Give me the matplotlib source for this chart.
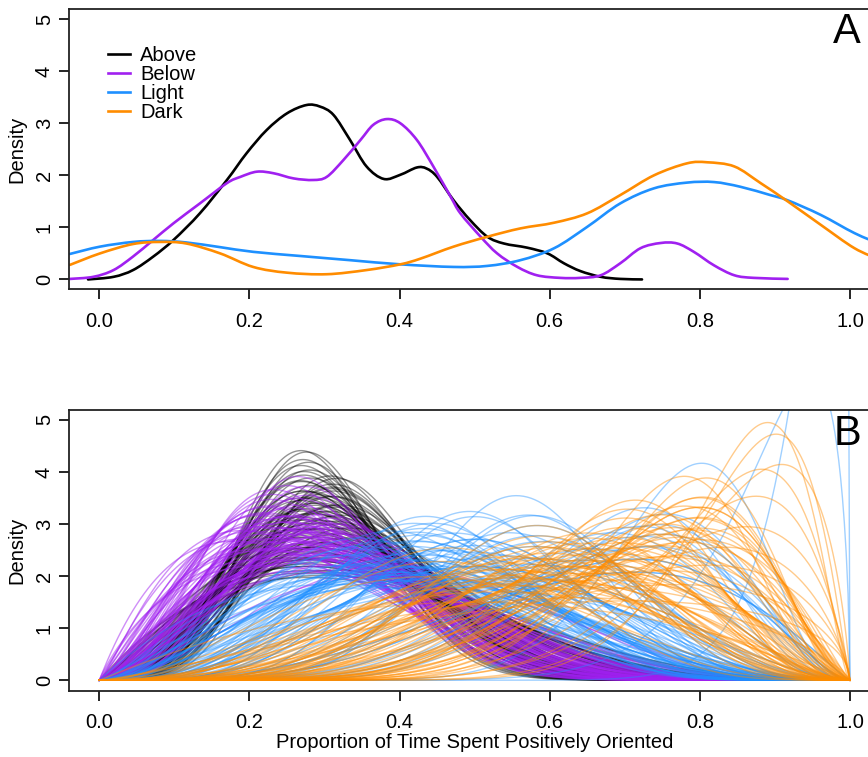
import math

import numpy as np
import matplotlib
matplotlib.use('Agg')
import matplotlib.pyplot as plt
from matplotlib.path import Path
from matplotlib.patches import PathPatch
from matplotlib.lines import Line2D

plt.rcParams['font.family'] = ['Liberation Sans', 'DejaVu Sans']

### Panel A: smoothed densities ###

above_x = [-0.015, 0.019, 0.045, 0.072, 0.099, 0.134, 0.170, 0.196, 0.223, 0.250,
           0.276, 0.294, 0.312, 0.334, 0.356, 0.379, 0.401, 0.423, 0.436, 0.450,
           0.472, 0.494, 0.517, 0.539, 0.570, 0.597, 0.619, 0.641, 0.668, 0.694, 0.723]
above_y = [0.00, 0.05, 0.18, 0.44, 0.76, 1.27, 1.91, 2.42, 2.87, 3.19,
           3.35, 3.32, 3.16, 2.68, 2.17, 1.93, 2.01, 2.15, 2.13, 1.97,
           1.52, 1.14, 0.82, 0.69, 0.61, 0.50, 0.31, 0.16, 0.05, 0.01, 0.00]

below_x = [-0.039, -0.008, 0.019, 0.045, 0.072, 0.099, 0.134, 0.170, 0.188, 0.210,
           0.232, 0.259, 0.285, 0.303, 0.325, 0.348, 0.365, 0.383, 0.401, 0.423,
           0.445, 0.468, 0.481, 0.508, 0.530, 0.557, 0.583, 0.614, 0.641, 0.668,
           0.694, 0.721, 0.748, 0.770, 0.792, 0.819, 0.846, 0.872, 0.917]
below_y = [0.01, 0.05, 0.18, 0.44, 0.76, 1.08, 1.46, 1.85, 1.97, 2.07,
           2.04, 1.94, 1.91, 1.97, 2.29, 2.68, 2.97, 3.08, 3.00, 2.68,
           2.17, 1.59, 1.27, 0.82, 0.50, 0.24, 0.08, 0.03, 0.03, 0.08,
           0.31, 0.60, 0.70, 0.69, 0.53, 0.27, 0.08, 0.03, 0.01]

light_x = [-0.039, 0.001, 0.045, 0.081, 0.116, 0.161, 0.205, 0.268, 0.334, 0.401,
           0.472, 0.517, 0.561, 0.606, 0.650, 0.694, 0.739, 0.783, 0.819, 0.854,
           0.894, 0.917, 0.961, 1.006, 1.040]
light_y = [0.49, 0.63, 0.72, 0.74, 0.71, 0.62, 0.53, 0.45, 0.37, 0.29,
           0.24, 0.26, 0.37, 0.60, 1.01, 1.46, 1.75, 1.86, 1.87, 1.78,
           1.62, 1.52, 1.24, 0.89, 0.68]

dark_x = [-0.039, 0.001, 0.045, 0.081, 0.116, 0.161, 0.205, 0.250, 0.303, 0.356,
          0.401, 0.428, 0.472, 0.517, 0.561, 0.606, 0.650, 0.694, 0.739, 0.783,
          0.810, 0.846, 0.881, 0.917, 0.961, 1.006, 1.040]
dark_y = [0.28, 0.50, 0.68, 0.72, 0.69, 0.50, 0.24, 0.13, 0.10, 0.18,
          0.29, 0.40, 0.63, 0.82, 0.98, 1.09, 1.27, 1.62, 2.00, 2.23,
          2.25, 2.17, 1.85, 1.50, 1.05, 0.60, 0.38]

### Panel B: beta posterior draws (shape parameters a, b per draw) ###

above_a = [2.3, 2.6, 2.8, 3.0, 3.2, 3.4, 3.5, 3.7, 3.9, 4.1, 4.3, 4.5, 4.8, 5.0, 5.3, 5.6, 6.0,
           6.4, 6.8, 7.3, 2.5, 2.9, 3.3, 3.6, 4.0, 4.4, 4.7, 5.2, 5.8, 6.3, 2.4, 2.7, 3.1, 3.4,
           3.8, 4.2, 4.6, 5.1, 5.5, 6.1, 3.0, 3.5, 4.0, 4.5, 5.0, 5.5, 6.2, 7.0, 2.2, 2.6,
           3.6, 3.8, 4.0, 4.2, 4.4, 4.6, 4.8, 5.0, 5.2, 5.4, 3.5, 3.9, 4.3, 4.7, 5.1, 5.5,
           5.9, 6.3, 6.7, 7.1, 3.3, 3.7, 4.1, 4.5, 4.9, 5.3, 5.7, 6.1, 6.5, 6.9,
           2.0, 2.1, 2.2, 2.3, 2.4, 2.5, 2.6, 2.8, 3.0, 3.2]
above_b = [4.4, 5.0, 5.5, 6.0, 6.4, 7.0, 7.2, 7.8, 8.3, 8.8, 9.4, 10.0, 10.6, 11.2, 12.0, 12.8,
           13.8, 14.9, 16.0, 17.5, 4.2, 5.2, 5.9, 6.6, 7.4, 8.4, 9.2, 10.3, 11.6, 12.8, 5.0, 5.8,
           6.8, 7.6, 8.6, 9.6, 10.8, 12.0, 13.2, 14.6, 5.4, 6.4, 7.0, 8.0, 9.4, 10.6, 12.6, 14.0,
           3.8, 4.8, 7.4, 7.8, 8.4, 8.7, 9.4, 9.7, 10.4, 10.7, 11.4, 11.7, 7.7, 8.9, 9.8, 11.1,
           12.0, 13.3, 14.1, 15.4, 16.3, 17.6, 6.2, 6.9, 8.0, 8.7, 9.8, 10.5, 11.6, 12.3, 13.2, 14.3,
           3.6, 3.9, 4.1, 4.4, 4.6, 4.9, 5.1, 5.6, 6.0, 6.5]

below_a = [2.0, 2.2, 2.4, 2.6, 2.8, 3.0, 3.2, 3.4, 3.6, 3.8, 4.0, 4.3, 4.6, 5.0, 5.4, 2.1, 2.3,
           2.5, 2.7, 2.9, 3.1, 3.3, 3.5, 3.8, 4.1, 4.5, 1.9, 2.2, 2.5, 2.8, 3.1, 3.4, 3.8, 4.2,
           2.4, 2.7, 3.0, 3.4, 3.9, 4.4, 2.0, 2.3, 2.6, 3.0, 3.5, 4.0, 4.8, 5.6, 2.7, 3.2,
           2.4, 2.6, 2.8, 3.0, 3.2, 3.4, 3.6, 2.5, 2.7, 2.9, 3.1, 3.3, 3.5, 3.7, 2.2, 2.4,
           2.6, 2.8, 3.0, 3.2, 2.3, 2.5, 2.7, 2.9, 3.1, 3.3, 3.5, 3.9, 4.2, 4.6]
below_b = [4.6, 5.4, 5.6, 6.4, 6.6, 7.5, 7.4, 8.2, 8.8, 9.0, 9.8, 10.2, 11.0, 11.5, 12.6, 4.0,
           4.6, 5.0, 5.3, 5.8, 6.2, 6.6, 7.0, 7.6, 8.2, 9.0, 4.2, 6.0, 6.8, 7.6, 8.6, 9.4, 10.4,
           11.6, 4.2, 4.6, 5.6, 6.2, 7.4, 8.4, 5.6, 6.6, 7.2, 8.4, 9.6, 11.0, 12.4, 13.8, 3.8, 4.4,
           5.2, 5.8, 6.4, 7.0, 7.6, 8.2, 8.8, 4.9, 5.4, 5.9, 6.4, 6.9, 7.4, 7.9, 5.3, 6.0,
           6.7, 7.4, 8.1, 8.8, 4.0, 4.5, 5.0, 5.4, 5.9, 6.4, 6.8, 7.8, 8.5, 9.4]

light_a = [2.0, 2.2, 2.5, 2.8, 3.0, 3.4, 3.8, 4.2, 4.6, 5.0, 5.5, 6.0, 6.6, 7.0, 3.0, 4.0, 6.0,
           8.0, 5.0, 7.0, 9.0, 3.5, 4.0, 5.0, 6.0, 7.0, 8.0, 6.0, 5.0, 7.5, 9.0, 10.0, 12.0, 20.0,
           2.4, 2.8, 3.2, 3.6, 4.4, 5.2, 2.6, 3.0, 3.8, 4.8, 6.2, 8.4, 11.0, 4.5, 6.5, 14.0,
           3.0, 3.4, 3.8, 4.2, 4.6, 5.0, 5.6, 6.2, 3.2, 3.6, 4.0, 4.5, 5.0, 5.5, 6.0, 2.6,
           3.0, 3.4, 3.8, 4.2, 5.0, 6.0, 7.0, 8.0, 9.0, 4.0, 5.0, 6.0, 7.0, 8.0,
           2.4, 2.6, 2.8, 3.0, 3.2, 2.5, 2.7, 2.9, 3.3, 3.6]
light_b = [3.2, 3.0, 3.4, 3.6, 4.0, 4.4, 4.8, 5.2, 5.6, 6.4, 7.0, 7.6, 8.0, 8.8, 3.0, 4.0, 6.0,
           8.0, 4.5, 6.0, 7.0, 3.0, 2.2, 2.6, 2.8, 3.0, 3.4, 3.6, 3.2, 4.0, 3.6, 4.4, 1.6, 1.3,
           4.0, 4.6, 5.4, 6.0, 6.6, 7.6, 2.6, 3.4, 4.2, 5.4, 6.8, 8.6, 9.0, 3.6, 4.8, 4.2,
           3.8, 4.3, 4.9, 5.4, 6.0, 6.5, 7.3, 8.2, 3.2, 3.6, 4.0, 4.5, 5.0, 5.5, 6.0, 4.0,
           4.7, 5.5, 6.2, 7.0, 3.9, 4.6, 5.3, 6.0, 6.8, 2.2, 2.6, 2.9, 3.3, 3.7,
           3.8, 3.6, 4.2, 4.0, 4.6, 3.2, 3.4, 3.8, 4.4, 5.0]

dark_a = [3.0, 3.5, 4.0, 4.5, 5.0, 5.5, 6.0, 6.5, 7.0, 8.0, 9.0, 10.0, 2.6, 3.0, 3.6, 4.0, 5.0,
          6.0, 7.0, 8.0, 4.0, 5.0, 6.0, 7.0, 8.0, 9.0, 10.0, 12.0, 6.0, 8.0, 10.0, 12.0, 9.0, 14.0,
          3.0, 4.0, 5.0, 2.4, 2.0, 4.0, 5.0, 3.0, 11.0, 7.5, 6.5, 9.5, 4.5, 13.0, 2.2, 3.4,
          4.0, 4.5, 5.0, 5.5, 6.0, 6.5, 7.0, 7.5, 3.5, 4.0, 4.5, 5.0, 5.5, 6.0, 6.5, 5.0,
          6.0, 7.0, 8.0, 9.0, 3.0, 3.5, 4.0, 4.5, 5.0, 6.0, 7.0, 8.0, 9.0, 10.0]
dark_b = [2.0, 2.2, 2.4, 2.6, 2.8, 3.0, 3.2, 3.4, 3.6, 4.0, 4.4, 4.8, 2.4, 2.8, 3.2, 3.6, 4.0,
          4.6, 5.2, 6.0, 2.0, 2.2, 2.4, 2.6, 2.8, 3.0, 3.2, 3.6, 1.8, 2.0, 2.2, 2.2, 1.8, 2.6,
          1.6, 1.7, 1.8, 1.8, 2.0, 4.6, 5.6, 3.6, 5.0, 3.0, 2.6, 3.4, 3.0, 4.4, 1.5, 2.6,
          2.6, 2.9, 3.2, 3.4, 3.7, 4.0, 4.2, 4.5, 2.7, 3.0, 3.3, 3.7, 4.0, 4.3, 4.7, 2.3,
          2.7, 3.0, 3.3, 3.7, 2.6, 3.0, 3.5, 3.9, 4.3, 2.25, 2.5, 2.75, 3.0, 3.25]

group_labels = ['Above', 'Below', 'Light', 'Dark']
group_colors = ['black', '#A020F0', '#1E90FF', '#FF8C00']


def beta_pdf(x, a, b):
    log_norm = math.lgamma(a + b) - math.lgamma(a) - math.lgamma(b)
    with np.errstate(divide='ignore'):
        return np.exp(log_norm + (a - 1) * np.log(x) + (b - 1) * np.log(1 - x))


def smooth_path(xs, ys):
    # Catmull-Rom style bezier through the read points (drawing only)
    pts = np.column_stack([xs, ys])
    verts = [pts[0]]
    codes = [Path.MOVETO]
    for i in range(len(pts) - 1):
        p0 = pts[i - 1] if i > 0 else pts[i]
        p1 = pts[i]
        p2 = pts[i + 1]
        p3 = pts[i + 2] if i + 2 < len(pts) else pts[i + 1]
        verts += [p1 + (p2 - p0) / 6, p2 - (p3 - p1) / 6, p2]
        codes += [Path.CURVE4] * 3
    return Path(verts, codes)


def style_axis(ax, ymin):
    ax.set_xlim(-0.04, 1.04)
    ax.set_ylim(ymin, 5.19)
    ax.set_xticks([0.0, 0.2, 0.4, 0.6, 0.8, 1.0])
    ax.set_xticklabels(['0.0', '0.2', '0.4', '0.6', '0.8', '1.0'])
    ax.set_yticks([0, 1, 2, 3, 4, 5])
    ax.tick_params(direction='out', length=7, width=1.2, labelsize=14.5)
    ax.tick_params(axis='x', pad=9)
    ax.tick_params(axis='y', pad=4)
    plt.setp(ax.get_yticklabels(), rotation=90, va='center')
    for spine in ax.spines.values():
        spine.set_linewidth(1.3)
        spine.set_color('#222222')
    ax.set_ylabel('Density', fontsize=14.5, labelpad=6)


def plot_figure():

    fig = plt.figure(figsize=(8.68, 7.57), dpi=100)
    ax1 = fig.add_axes([0.0798, 0.6178, 0.934, 0.370])
    ax2 = fig.add_axes([0.0798, 0.0876, 0.934, 0.3708])

    ### Panel A ###

    series = [(above_x, above_y), (below_x, below_y), (light_x, light_y), (dark_x, dark_y)]
    handles = []
    for (xs, ys), label, color in zip(series, group_labels, group_colors):
        ax1.add_patch(PathPatch(smooth_path(xs, ys), facecolor='none', edgecolor=color,
                                linewidth=1.9, capstyle='round', joinstyle='round'))
        handles.append(Line2D([], [], color=color, linewidth=1.9, label=label))

    style_axis(ax1, -0.19)
    ax1.legend(handles=handles, loc='upper left', bbox_to_anchor=(0.03, 0.918), frameon=False,
               fontsize=14.5, handlelength=1.1, handletextpad=0.5,
               labelspacing=0.0, borderpad=0.2)
    ax1.text(0.996, 4.76, 'A', fontsize=30, ha='center', va='center')

    ### Panel B ###

    x_grid = np.linspace(0, 1, 401)
    params = [(above_a, above_b), (below_a, below_b), (light_a, light_b), (dark_a, dark_b)]
    alphas = [0.42, 0.5, 0.42, 0.45]
    for (a_list, b_list), color, alpha in zip(params, group_colors, alphas):
        for a, b in zip(a_list, b_list):
            ax2.plot(x_grid, beta_pdf(x_grid, a, b), color=color, linewidth=1.0, alpha=alpha)

    style_axis(ax2, -0.2)
    ax2.set_xlabel('Proportion of Time Spent Positively Oriented', fontsize=14.5, labelpad=1)
    ax2.text(0.997, 4.73, 'B', fontsize=30, ha='center', va='center')

    fig.savefig('out.png', dpi=100)


if __name__ == '__main__':

    plot_figure()
